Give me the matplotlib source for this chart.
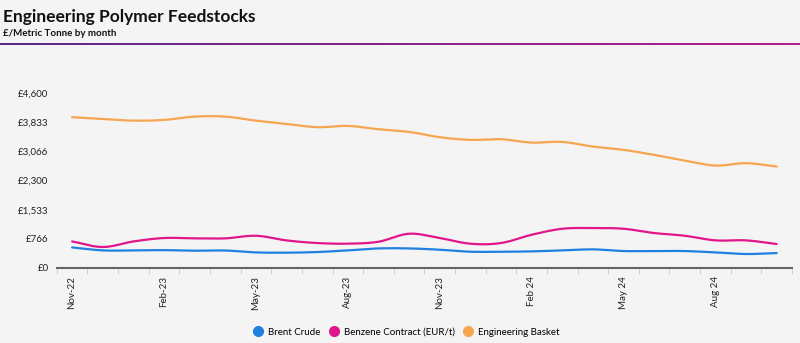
import numpy as np
import matplotlib
matplotlib.use("Agg")
import matplotlib.pyplot as plt
from matplotlib.lines import Line2D

months = ["Nov-22", "Dec-22", "Jan-23", "Feb-23", "Mar-23", "Apr-23", "May-23", "Jun-23",
          "Jul-23", "Aug-23", "Sep-23", "Oct-23", "Nov-23", "Dec-23", "Jan-24", "Feb 24",
          "Mar 24", "Apr 24", "May 24", "Jun 24", "Jul 24", "Aug 24", "Sep 24", "Oct 24"]

brent = [542, 463, 463, 470, 455, 460, 410, 403, 420, 463, 515, 515,
         481, 428, 428, 437, 463, 490, 446, 446, 446, 410, 368, 393]
benzene = [699, 552, 699, 789, 780, 780, 849, 726, 657, 640, 691, 902,
           789, 639, 657, 875, 1033, 1052, 1033, 920, 849, 727, 727, 631]
basket = [3970, 3925, 3880, 3899, 3986, 3986, 3880, 3794, 3707, 3741, 3654, 3583,
          3444, 3373, 3391, 3302, 3320, 3197, 3110, 2979, 2829, 2697, 2760, 2671]

yticks = [0, 766, 1533, 2300, 3066, 3833, 4600]
ylabels = ["£0", "£766", "£1,533", "£2,300", "£3,066", "£3,833", "£4,600"]
label_every = 3

series = [("Brent Crude", brent, "#1f80e0"),
          ("Benzene Contract (EUR/t)", benzene, "#e0168c"),
          ("Engineering Basket", basket, "#f6a650")]

plt.rcParams["font.family"] = ["Lato", "DejaVu Sans"]


def smooth(x, y, n=12):
    # catmull-rom curve through the points, for a softer line
    x = np.asarray(x, float)
    y = np.asarray(y, float)
    px = np.concatenate([[2 * x[0] - x[1]], x, [2 * x[-1] - x[-2]]])
    py = np.concatenate([[2 * y[0] - y[1]], y, [2 * y[-1] - y[-2]]])
    xs, ys = [], []
    t = np.linspace(0, 1, n, endpoint=False)
    for i in range(1, len(px) - 2):
        for p, out in ((px, xs), (py, ys)):
            p0, p1, p2, p3 = p[i - 1], p[i], p[i + 1], p[i + 2]
            out.extend(0.5 * (2 * p1 + (-p0 + p2) * t + (2 * p0 - 5 * p1 + 4 * p2 - p3) * t ** 2
                              + (-p0 + 3 * p1 - 3 * p2 + p3) * t ** 3))
    xs.append(x[-1])
    ys.append(y[-1])
    return np.array(xs), np.array(ys)


fig = plt.figure(figsize=(8, 3.43), dpi=100)
fig.patch.set_facecolor("#f4f4f4")

# header
fig.text(0.004, 0.975, "Engineering Polymer Feedstocks", fontsize=12.5, fontweight="bold",
         va="top", ha="left", color="#111111")
fig.text(0.004, 0.915, "£/Metric Tonne by month", fontsize=7, fontweight="bold",
         va="top", ha="left", color="#111111")
hdr = fig.add_axes([0, 0.868, 1, 0.006])
hdr.imshow(np.linspace(0, 1, 256).reshape(1, -1), aspect="auto",
           cmap=matplotlib.colors.LinearSegmentedColormap.from_list("hdr", ["#5b2a86", "#b41f8c"]),
           extent=[0, 1, 0, 1])
hdr.set_axis_off()

ax = fig.add_axes([0.071, 0.2187, 0.919, 0.5093])
ax.set_facecolor("#f4f4f4")
x = np.arange(len(months))
for name, vals, col in series:
    sx, sy = smooth(x, vals)
    ax.plot(sx, sy, color=col, lw=1.6, solid_capstyle="round")

ax.set_xlim(-0.5, len(months) - 0.5)
ax.set_ylim(0, 4600)
ax.set_yticks(yticks)
ax.set_yticklabels(ylabels)
ax.set_xticks(x[::label_every])
ax.set_xticklabels(months[::label_every], rotation=90)
ax.set_xticks(np.arange(len(months) + 1) - 0.5, minor=True)
ax.tick_params(axis="x", which="major", length=0, pad=6, labelsize=7, colors="#222222")
ax.tick_params(axis="x", which="minor", length=4, color="#cccccc")
ax.tick_params(axis="y", length=0, pad=6, labelsize=7, colors="#222222")
for s in ["top", "right", "left"]:
    ax.spines[s].set_visible(False)
ax.spines["bottom"].set_color("#666666")
ax.spines["bottom"].set_linewidth(1.5)

handles = [Line2D([], [], marker="o", ls="none", markersize=7, color=c) for _, _, c in series]
fig.legend(handles, [n for n, _, _ in series], loc="center", bbox_to_anchor=(0.505, 0.032),
           ncol=3, frameon=False, fontsize=7, handletextpad=0.0, columnspacing=0.4)

fig.savefig("out.png", dpi=100, facecolor=fig.get_facecolor())
